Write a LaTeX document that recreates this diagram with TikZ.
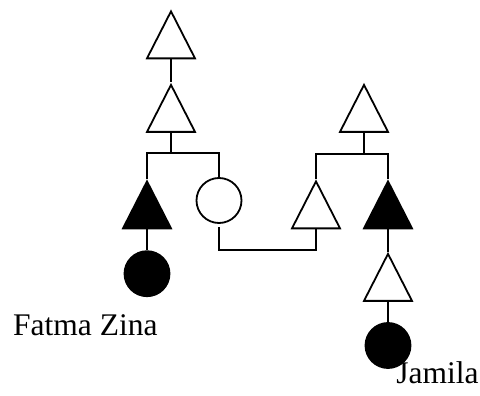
\documentclass[tikz,border=0pt]{standalone}
\usepackage{fontspec}
\setmainfont{Liberation Serif}
\usetikzlibrary{shapes.geometric}
\begin{document}
\begin{tikzpicture}[x=1pt,y=-1pt,line width=1.8pt,
  tri/.style={draw, isosceles triangle, shape border rotate=90,
    isosceles triangle stretches, minimum width=48pt, minimum height=47pt,
    inner sep=0pt, anchor=apex},
  aff/.style={fill=black},
  circ/.style={draw, circle, minimum size=45pt, inner sep=0pt},
  lbl/.style={anchor=base west, inner sep=0pt, font=\fontsize{31.5}{36}\selectfont}]
\useasboundingbox (0,0) rectangle (480,396);
% left lineage
\node[tri] (A) at (171,9) {};
\node[tri] (B) at (171,82.5) {};
\node[tri,aff] (C) at (147,179) {};
\node[circ] (W) at (219,200.5) {};
\node[circ,aff] (FZ) at (147,273.7) {};
% right lineage
\node[tri] (E) at (364,82.5) {};
\node[tri] (D) at (316,179) {};
\node[tri,aff] (F) at (388,179) {};
\node[tri] (G) at (388,251.5) {};
\node[circ,aff] (J) at (388,345.5) {};
% labels
\node[lbl] (fzl) at (12.3,335.7) {Fatma Zina};
\node[lbl] (jl) at (395.5,383) {Jamila};
% connectors
\coordinate (barL) at (171,153);
\coordinate (barR) at (364,154);
\coordinate (mar) at (267.5,250);
\draw (A.lower side) -- (B.apex);
\draw (B.lower side) -- (barL);
\draw (C.apex) |- (barL) -| (W.north);
\draw (C.lower side) -- (FZ.north);
\draw (E.lower side) -- (barR);
\draw (D.apex) |- (barR) -| (F.apex);
\draw ([yshift=-3.5pt]W.south) |- (mar) -| (D.lower side);
\draw (F.lower side) -- (G.apex);
\draw (G.lower side) -- (J.north);
\end{tikzpicture}
\end{document}
